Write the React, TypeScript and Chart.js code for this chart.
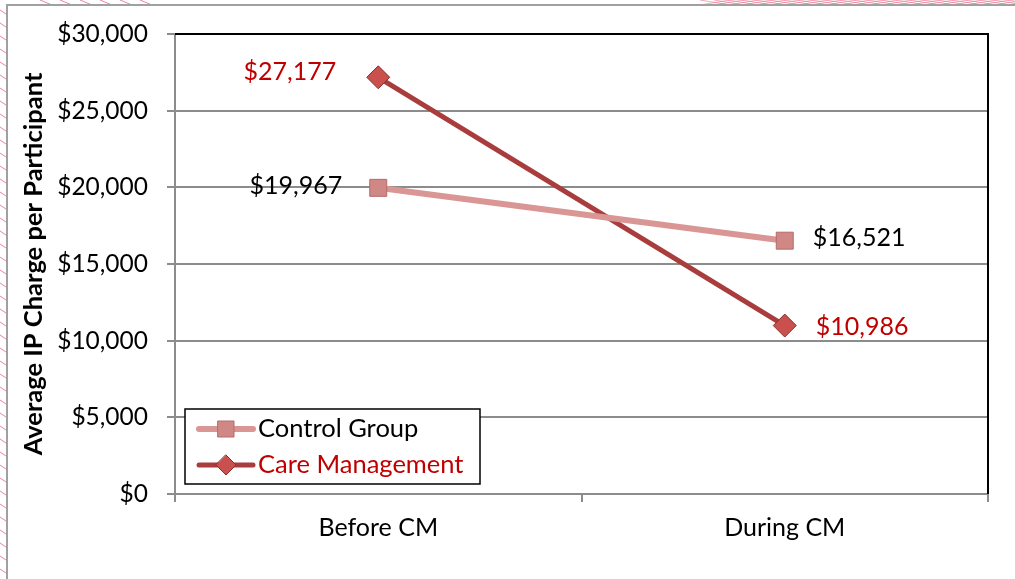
import React, { useEffect, useRef } from "react";
import { Chart, registerables } from "chart.js";

Chart.register(...registerables);

const categories = ["Before CM", "During CM"];
const controlGroup = [19967, 16521];
const careManagement = [27177, 10986];
const seriesNames = ["Control Group", "Care Management"];
const yTicks = [0, 5000, 10000, 15000, 20000, 25000, 30000];
const yTitle = "Average IP Charge per Participant";

const FONT = "Lato, 'Open Sans', sans-serif";
const CONTROL_LINE = "#d99694";
const CONTROL_FILL = "#d08886";
const CONTROL_BORDER = "#b56a69";
const CM_LINE = "#a93c3c";
const CM_FILL = "#c9504c";
const CM_BORDER = "#8e2b2b";
const RED_TEXT = "#c00000";

const fmt = (v: number) => "$" + v.toLocaleString("en-US");

const decoPlugin = {
  id: "deco",
  beforeDraw(chart: any) {
    const ctx = chart.ctx;
    ctx.save();
    ctx.strokeStyle = "rgba(230,80,120,0.7)";
    ctx.lineWidth = 1;
    for (let y = 10; y < 579; y += 13) {
      ctx.beginPath();
      ctx.moveTo(0, y);
      ctx.lineTo(6, y + 4);
      ctx.stroke();
    }
    for (let x = 40; x < 160; x += 20) {
      ctx.beginPath();
      ctx.moveTo(x, 0);
      ctx.lineTo(x + 12, 5);
      ctx.stroke();
    }
    ctx.strokeStyle = "rgba(235,110,140,0.6)";
    for (let x = 700; x < 1015; x += 14) {
      ctx.beginPath();
      ctx.moveTo(x, 5);
      ctx.lineTo(x + 30, 0);
      ctx.stroke();
      ctx.beginPath();
      ctx.moveTo(x, 0);
      ctx.lineTo(x + 30, 5);
      ctx.stroke();
    }
    ctx.strokeStyle = "#a0a0a0";
    ctx.lineWidth = 2;
    ctx.beginPath();
    ctx.moveTo(7, 579);
    ctx.lineTo(7, 5);
    ctx.lineTo(1015, 5);
    ctx.stroke();
    ctx.restore();
  },
  afterDraw(chart: any) {
    const ctx = chart.ctx;
    const a = chart.chartArea;
    ctx.save();
    ctx.strokeStyle = "#000";
    ctx.lineWidth = 2;
    ctx.beginPath();
    ctx.moveTo(a.left, a.top);
    ctx.lineTo(a.right, a.top);
    ctx.lineTo(a.right, a.bottom);
    ctx.stroke();
    ctx.font = `25px ${FONT}`;
    ctx.textBaseline = "middle";
    const m0 = chart.getDatasetMeta(0).data;
    const m1 = chart.getDatasetMeta(1).data;
    ctx.fillStyle = "#000";
    ctx.textAlign = "right";
    ctx.fillText(fmt(controlGroup[0]), m0[0].x - 36, m0[0].y - 2);
    ctx.textAlign = "left";
    ctx.fillText(fmt(controlGroup[1]), m0[1].x + 28, m0[1].y - 3);
    ctx.fillStyle = RED_TEXT;
    ctx.textAlign = "right";
    ctx.fillText(fmt(careManagement[0]), m1[0].x - 42, m1[0].y - 5);
    ctx.textAlign = "left";
    ctx.fillText(fmt(careManagement[1]), m1[1].x + 31, m1[1].y + 1);

    const lx = 185, ly = 409, lw = 295, lh = 75;
    ctx.fillStyle = "#fff";
    ctx.fillRect(lx, ly, lw, lh);
    ctx.strokeStyle = "#000";
    ctx.lineWidth = 1.5;
    ctx.strokeRect(lx, ly, lw, lh);
    const rows = [
      { y: 429, color: CONTROL_LINE, w: 6, fill: CONTROL_FILL, border: CONTROL_BORDER, shape: "rect", text: "#000" },
      { y: 465, color: CM_LINE, w: 5, fill: CM_FILL, border: CM_BORDER, shape: "diamond", text: RED_TEXT },
    ];
    rows.forEach((r, i) => {
      ctx.strokeStyle = r.color;
      ctx.lineWidth = r.w;
      ctx.lineCap = "round";
      ctx.beginPath();
      ctx.moveTo(199, r.y);
      ctx.lineTo(253, r.y);
      ctx.stroke();
      ctx.fillStyle = r.fill;
      ctx.strokeStyle = r.border;
      ctx.lineWidth = 1;
      ctx.beginPath();
      if (r.shape === "rect") {
        ctx.rect(218, r.y - 8, 16, 16);
      } else {
        ctx.moveTo(226, r.y - 10);
        ctx.lineTo(236, r.y);
        ctx.lineTo(226, r.y + 10);
        ctx.lineTo(216, r.y);
        ctx.closePath();
      }
      ctx.fill();
      ctx.stroke();
      ctx.fillStyle = r.text;
      ctx.textAlign = "left";
      ctx.textBaseline = "middle";
      ctx.font = `25.5px ${FONT}`;
      ctx.fillText(seriesNames[i], 258, r.y);
    });
    ctx.restore();
  },
};

export default function App() {
  const ref = useRef<HTMLCanvasElement | null>(null);
  useEffect(() => {
    if (!ref.current) return;
    const chart = new Chart(ref.current, {
      type: "line",
      data: {
        labels: categories,
        datasets: [
          {
            label: seriesNames[0],
            data: controlGroup,
            borderColor: CONTROL_LINE,
            borderWidth: 6,
            backgroundColor: CONTROL_FILL,
            pointStyle: "rect",
            pointRadius: 12,
            pointBackgroundColor: CONTROL_FILL,
            pointBorderColor: CONTROL_BORDER,
            pointBorderWidth: 1,
            tension: 0,
          },
          {
            label: seriesNames[1],
            data: careManagement,
            borderColor: CM_LINE,
            borderWidth: 5,
            backgroundColor: CM_FILL,
            pointStyle: "rectRot",
            pointRadius: 11.5,
            pointBackgroundColor: CM_FILL,
            pointBorderColor: CM_BORDER,
            pointBorderWidth: 1,
            tension: 0,
          },
        ],
      },
      options: {
        animation: false,
        responsive: false,
        maintainAspectRatio: false,
        layout: { padding: { left: 0, top: 34, right: 27, bottom: 0 } },
        plugins: {
          legend: { display: false },
          tooltip: { enabled: false },
        },
        scales: {
          x: {
            type: "category",
            offset: true,
            grid: {
              display: true,
              offset: true,
              drawOnChartArea: false,
              drawTicks: true,
              tickLength: 8,
              color: "#8c8c8c",
              lineWidth: 2,
            },
            border: { display: true, color: "#8c8c8c", width: 2 },
            ticks: {
              color: "#000",
              font: { family: FONT, size: 25 },
              padding: 11,
            },
            afterFit: (s: any) => {
              s.height = 85;
            },
          },
          y: {
            min: 0,
            max: 30000,
            afterBuildTicks: (s: any) => {
              s.ticks = yTicks.map((v) => ({ value: v }));
            },
            grid: {
              color: "#8c8c8c",
              lineWidth: 2,
              tickLength: 8,
              drawTicks: true,
            },
            border: { display: true, color: "#8c8c8c", width: 2 },
            ticks: {
              color: "#000",
              font: { family: FONT, size: 24.5 },
              padding: 19,
              callback: (v: any) => fmt(Number(v)),
            },
            title: {
              display: true,
              text: yTitle,
              color: "#000",
              font: { family: FONT, size: 25.5, weight: "bold" },
              padding: { top: 18, bottom: 0 },
            },
            afterFit: (s: any) => {
              s.width = 175;
            },
          },
        },
      },
      plugins: [decoPlugin],
    });
    return () => chart.destroy();
  }, []);
  return (
    <div style={{ position: "fixed", left: 0, top: 0, width: 1015, height: 579, background: "#fff" }}>
      <canvas ref={ref} width={1015} height={579} style={{ width: 1015, height: 579, display: "block" }} />
    </div>
  );
}
